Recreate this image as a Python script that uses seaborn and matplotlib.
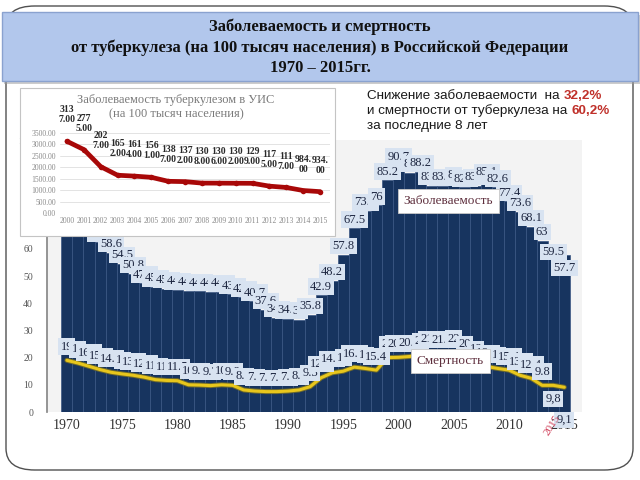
import matplotlib
matplotlib.use("Agg")
import matplotlib.pyplot as plt
import matplotlib.patheffects as pe
from matplotlib.patches import Rectangle, FancyBboxPatch
import numpy as np
import pandas as pd
import seaborn as sns

# ---------------- data ----------------
years = list(range(1970, 2016))
incidence = [80.0, 74.0, 68.0, 62.5, 58.6, 54.5, 50.8, 47.3, 45.9, 45.4,
             44.8, 44.6, 44.4, 44.3, 44.1, 43.2, 42.1, 40.7, 37.6, 34.6,
             34.2, 34.0, 35.8, 42.9, 48.2, 57.8, 67.5, 73.9, 76.0, 85.2,
             90.7, 88.0, 88.2, 83.2, 83.1, 84.0, 82.6, 83.2, 85.1, 82.6,
             77.4, 73.6, 68.1, 63.0, 59.5, 57.7]
mortality = [19.0, 18.0, 16.8, 15.6, 14.6, 14.0, 13.5, 12.8, 11.9, 11.6,
             11.5, 10.0, 9.9, 9.7, 10.0, 9.8, 8.1, 7.7, 7.5, 7.5,
             7.7, 8.1, 9.3, 12.6, 14.4, 15.0, 16.5, 16.0, 15.4, 20.0,
             20.1, 20.4, 21.0, 21.9, 21.5, 22.0, 20.0, 18.0, 16.7, 16.0,
             15.4, 13.5, 12.4, 9.8, 9.8, 9.1]

uis_years = list(range(2000, 2016))
uis_values = [3137, 2775, 2027, 1652, 1614, 1561, 1387, 1372, 1308, 1306,
              1302, 1299, 1175, 1117, 984, 934]

title_lines = ["Заболеваемость и смертность",
               "от туберкулеза (на 100 тысяч населения) в Российской Федерации",
               "1970 – 2015гг."]
inset_title = "Заболеваемость туберкулезом в УИС\n(на 100 тысяч населения)"
note_lines = [("Снижение заболеваемости  на ", "32,2%"),
              ("и смертности от туберкулеза на ", "60,2%"),
              ("за последние 8 лет", "")]

df = pd.DataFrame({"year": years, "incidence": incidence, "mortality": mortality})
df_uis = pd.DataFrame({"year": uis_years, "value": uis_values})

# ---------------- style ----------------
sns.set_theme(style="white")
plt.rcParams["font.family"] = ["Liberation Serif", "DejaVu Serif"]

W, H = 640, 480
fig = plt.figure(figsize=(6.4, 4.8), dpi=100)
fig.patch.set_facecolor("white")

def fx(px):
    return px / W

def fy(py):
    return 1 - py / H

# outer rounded frame
frame = FancyBboxPatch((fx(6), fy(470)), fx(627), 464 / H,
                       boxstyle="round,pad=0,rounding_size=0.045",
                       transform=fig.transFigure, facecolor="white",
                       edgecolor="#505050", linewidth=1.0, zorder=-2)
fig.patches.append(frame)

# title box with shadow
shadow = Rectangle((fx(4), fy(84)), fx(636), 69 / H, transform=fig.transFigure,
                   facecolor="#9a9a9a", edgecolor="none", alpha=0.5, zorder=3)
fig.patches.append(shadow)
tbox = Rectangle((fx(2), fy(81)), fx(636), 69 / H, transform=fig.transFigure,
                 facecolor="#b2c7ec", edgecolor="#8aa2cf", linewidth=1.0, zorder=4)
fig.patches.append(tbox)
for ty, line in zip([27, 48, 68], title_lines):
    fig.text(0.5, fy(ty), line, ha="center", va="center", fontsize=12,
             fontweight="bold", color="#111111", zorder=5)

# ---------------- main chart ----------------
navy = "#17345f"
ax = fig.add_axes([fx(47), fy(412), fx(535), 272 / H])
ax.set_facecolor("#f3f3f3")
sns.barplot(data=df, x="year", y="incidence", native_scale=True, width=1.0,
            color=navy, edgecolor="#3a5684", linewidth=0.5, errorbar=None,
            saturation=1, ax=ax, zorder=2)
sns.lineplot(data=df, x="year", y="mortality", color="#e8c61c", linewidth=2.2,
             ax=ax, zorder=3,
             path_effects=[pe.Stroke(linewidth=3.6, foreground="#6e6a2c"), pe.Normal()])

ax.set_xlim(1968.2, 2016.6)
ax.set_ylim(0, 100)
ax.set_xticks(list(range(1970, 2016, 5)))
ax.set_xticklabels([str(y) for y in range(1970, 2016, 5)], fontsize=10, color="#333333")
ax.set_yticks(list(range(0, 101, 10)))
ax.set_yticklabels([str(v) for v in range(0, 101, 10)], fontsize=7, color="#555555")
ax.tick_params(axis="y", direction="out", length=4, width=0.8, color="#777777", pad=6)
ax.tick_params(axis="x", length=0, pad=5)
for s in ["top", "right", "bottom"]:
    ax.spines[s].set_visible(False)
ax.spines["left"].set_color("#888888")
ax.set_xlabel("")
ax.set_ylabel("")

def fmt(v, comma=False):
    s = f"{v:g}"
    return s.replace(".", ",") if comma else s

lab_box = dict(boxstyle="square,pad=0.18", facecolor="#d8e3f1", edgecolor="none")
bar_dy = {2014: -0.7, 2015: -4.7}
for yr, v in zip(years, incidence):
    ax.text(yr, v + bar_dy.get(yr, 3.2), fmt(v), ha="center", va="center",
            fontsize=9, color="#1d2640", bbox=lab_box, zorder=5, clip_on=False)

mort_dy = {2014: -5.0, 2015: -12.0}
comma_years = {2014, 2015}
for yr, v in zip(years, mortality):
    ax.text(yr, v + mort_dy.get(yr, 5.0), fmt(v, yr in comma_years), ha="center",
            va="center", fontsize=9, color="#1d2640", bbox=lab_box, zorder=6,
            clip_on=False)

box_w = dict(boxstyle="square,pad=0.45", facecolor="white", edgecolor="#c8c8c8",
             linewidth=0.6)
ax.text(2004.5, 77.6, "Заболеваемость", ha="center", va="center", fontsize=9.5,
        color="#5e2f3d", bbox=box_w, zorder=8)
ax.text(2004.7, 18.8, "Смертность", ha="center", va="center", fontsize=9.5,
        color="#5e2f3d", bbox=box_w, zorder=8)
ax.text(2013.9, -4.8, "2015", ha="center", va="center", fontsize=8,
        color="#d0405a", rotation=58, zorder=8, clip_on=False)

# ---------------- inset (УИС) ----------------
inset_bg = Rectangle((fx(20), fy(236)), fx(315), 148 / H, transform=fig.transFigure,
                     facecolor="white", edgecolor="#c4c4c4", linewidth=0.8, zorder=1)
fig.patches.append(inset_bg)
fig.text(fx(176), fy(107), inset_title, ha="center", va="center", fontsize=9,
         color="#7a7a7a", linespacing=1.25, zorder=5)

axi = fig.add_axes([fx(60), fy(213), fx(270), 80 / H], zorder=2)
axi.set_facecolor("none")
sns.lineplot(data=df_uis, x="year", y="value", color="#a80808", linewidth=3.4,
             marker="o", markersize=4, markeredgewidth=0, ax=axi, zorder=3,
             solid_capstyle="round")
axi.set_xlim(1999.585, 2015.59)
axi.set_ylim(0, 3500)
axi.set_yticks(list(range(0, 3501, 500)))
axi.set_yticklabels([f"{v:.2f}" for v in range(0, 3501, 500)], fontsize=5.5,
                    color="#8a8a8a")
axi.set_xticks(uis_years)
axi.set_xticklabels([str(y) for y in uis_years], fontsize=5.5, color="#8a8a8a")
axi.tick_params(length=0, pad=3)
axi.grid(axis="y", color="#dedede", linewidth=0.6)
axi.set_axisbelow(True)
for s in axi.spines.values():
    s.set_visible(False)
axi.set_xlabel("")
axi.set_ylabel("")

for yr, v in zip(uis_years, uis_values):
    s = f"{v:.2f}"
    cut = 3 if len(s) > 6 else 4
    axi.annotate(s[:cut] + "\n" + s[cut:], (yr, v), xytext=(0, 19),
                 textcoords="offset points", ha="center", va="center",
                 fontsize=7, fontweight="bold", color="#2a2a2a",
                 linespacing=1.15, annotation_clip=False, zorder=5)

# ---------------- note text ----------------
fig.canvas.draw()
renderer = fig.canvas.get_renderer()
for ny, (plain, red) in zip([96, 111, 126], note_lines):
    t = fig.text(fx(367), fy(ny), plain, ha="left", va="center", fontsize=9.7,
                 family=["Liberation Sans", "DejaVu Sans"], color="#1a1a1a", zorder=5)
    if red:
        bb = t.get_window_extent(renderer)
        fig.text(bb.x1 / W, fy(ny), red, ha="left", va="center", fontsize=9.7,
                 family=["Liberation Sans", "DejaVu Sans"], color="#c0302a",
                 fontweight="bold", zorder=5)

fig.savefig("out.png", dpi=100)
